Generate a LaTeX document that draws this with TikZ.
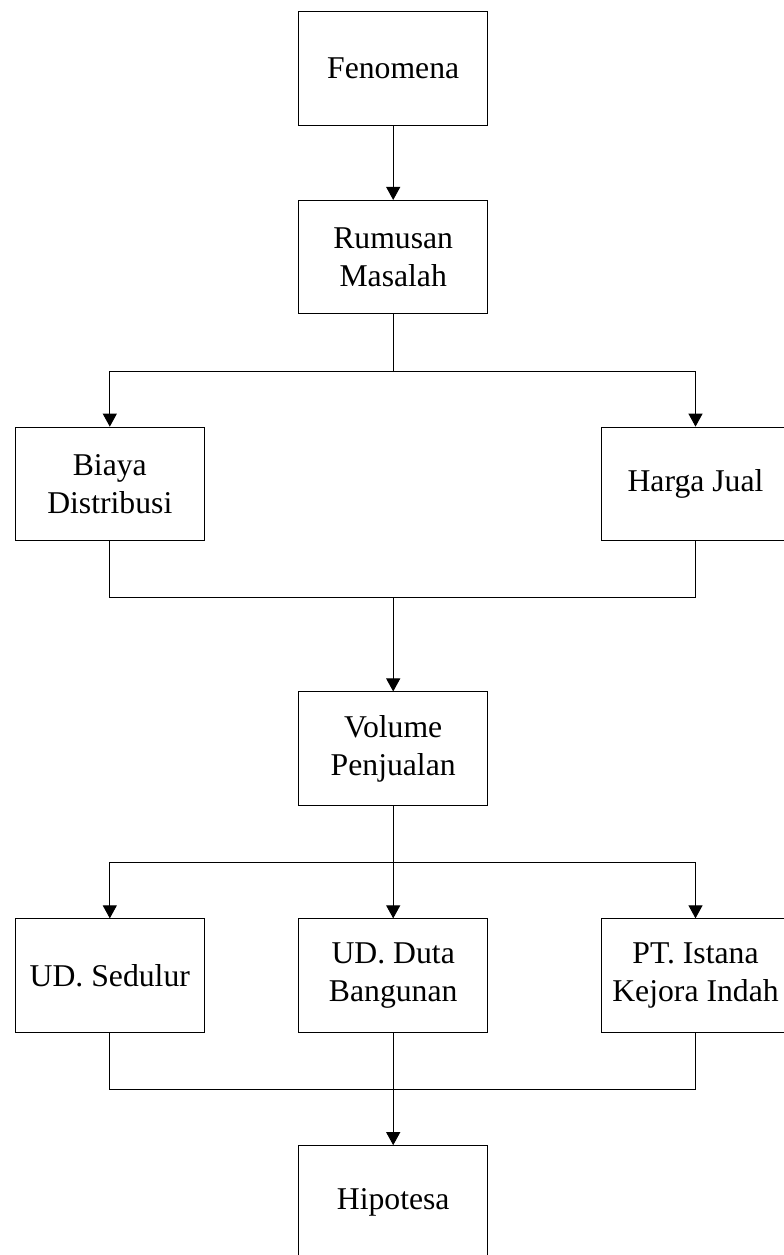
\documentclass[tikz,border=0pt]{standalone}
\usepackage{fontspec}
\setmainfont{Liberation Serif}
\usetikzlibrary{arrows.meta}
\begin{document}
\begin{tikzpicture}[x=1pt,y=-1pt,
  boxnode/.style={draw=black,line width=1pt,minimum width=189pt,minimum height=113.5pt,inner sep=0pt,align=center,font=\fontsize{31.7}{38.3}\selectfont},
  conn/.style={draw=black,line width=1pt},
  arr/.style={conn,-{Triangle[width=14pt,length=13pt]}}]
\useasboundingbox (0,0) rectangle (784,1255);
\clip (0,0) rectangle (784,1255);
\node[boxnode] (fen) at (393.2,68.4) {Fenomena};
\node[boxnode] (rum) at (393.2,257.2) {Rumusan\\Masalah};
\node[boxnode] (bia) at (109.8,483.9) {Biaya\\Distribusi};
\node[boxnode] (har) at (695.5,483.9) {Harga Jual};
\node[boxnode] (vol) at (393.2,748.7) {Volume\\Penjualan};
\node[boxnode] (sed) at (109.8,975.6) {UD. Sedulur};
\node[boxnode] (dut) at (393.2,975.6) {UD. Duta\\Bangunan};
\node[boxnode] (ist) at (695.5,975.6) {PT. Istana\\Kejora Indah};
\node[boxnode] (hip) at (393.2,1202.4) {Hipotesa};
\coordinate (s1) at (393.2,371);
\coordinate (m1) at (393.2,597.3);
\coordinate (s2) at (393.2,862);
\coordinate (m2) at (393.2,1089.3);
\draw[arr] (fen.south) -- (rum.north);
\draw[conn] (rum.south) -- (s1);
\draw[arr] (s1) -| (bia.north);
\draw[arr] (s1) -| (har.north);
\draw[conn] (bia.south) |- (m1) -| (har.south);
\draw[arr] (m1) -- (vol.north);
\draw[conn] (vol.south) -- (s2);
\draw[arr] (s2) -| (sed.north);
\draw[arr] (s2) -- (dut.north);
\draw[arr] (s2) -| (ist.north);
\draw[conn] (sed.south) |- (m2) -| (ist.south);
\draw[conn] (dut.south) -- (m2);
\draw[arr] (m2) -- (hip.north);
\end{tikzpicture}
\end{document}
